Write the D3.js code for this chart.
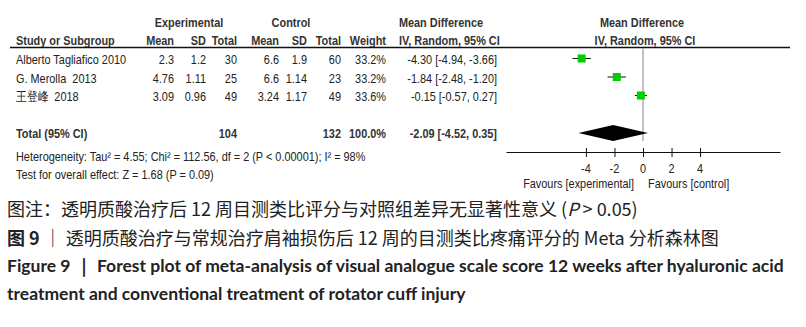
<!DOCTYPE html>
<html>
<head>
<meta charset="utf-8">
<script src="https://cdn.jsdelivr.net/npm/d3@7"></script>
<style>
  body { margin: 0; background: #fff; }
  svg { display: block; }
  .t { font-family: "Liberation Sans", Arial, sans-serif; font-size: 13.3px; fill: #222; white-space: pre; }
  .b { font-weight: bold; fill: #333; }
  .cn { font-family: "Noto Sans CJK SC", sans-serif; font-size: 18px; fill: #222; }
  .en { font-family: Lato, "Open Sans", sans-serif; font-size: 17.5px; font-weight: bold; fill: #222; }
</style>
</head>
<body>
<div id="container"></div>
<script>
(function(){

  // data
  var studies = ["Alberto Tagliafico 2010", "G. Merolla  2013", "王登峰  2018"]
  var expMean = ["2.3", "4.76", "3.09"]
  var expSD = ["1.2", "1.11", "0.96"]
  var expN = [30, 25, 49]
  var ctrlMean = ["6.6", "6.6", "3.24"]
  var ctrlSD = ["1.9", "1.14", "1.17"]
  var ctrlN = [60, 23, 49]
  var weight = [33.2, 33.2, 33.6]
  var md = [-4.30, -1.84, -0.15]
  var mdLo = [-4.94, -2.48, -0.57]
  var mdHi = [-3.66, -1.20, 0.27]
  var total = { expN: 104, ctrlN: 132, weight: 100.0, md: -2.09, lo: -4.52, hi: 0.35 }
  var tickValues = [-4, -2, 0, 2, 4]
  var hetText = "Heterogeneity: Tau² = 4.55; Chi² = 112.56, df = 2 (P < 0.00001); I² = 98%"
  var overallText = "Test for overall effect: Z = 1.68 (P = 0.09)"

  var width = 806, height = 327
  var narrow = 0.82   // no Arial Narrow here, squeeze Liberation Sans instead

  var svg = d3.select("#container")
    .append("svg")
      .attr("width", width)
      .attr("height", height)

  var x = d3.scaleLinear().domain([-9.6, 9.6]).range([506, 780])
  var rowY = [58.5, 77, 95.5]
  var totalY = 133
  var left = 16

  function txt(px, py, s, anchor, cls){
    return svg.append("text")
      .attr("class", "t " + (cls || ""))
      .attr("transform", "translate(" + px + "," + py + ") scale(" + narrow + ",1)")
      .attr("text-anchor", anchor || "start")
      .text(s)
  }
  function ci(m, l, h){
    return m.toFixed(2) + " [" + l.toFixed(2) + ", " + h.toFixed(2) + "]"
  }

  // headers
  txt(189, 27, "Experimental", "middle", "b")
  txt(291, 27, "Control", "middle", "b")
  txt(441, 27, "Mean Difference", "middle", "b")
  txt(642, 27, "Mean Difference", "middle", "b")
  txt(left, 45, "Study or Subgroup", "start", "b")
  txt(174, 45, "Mean", "end", "b")
  txt(206, 45, "SD", "end", "b")
  txt(237, 45, "Total", "end", "b")
  txt(279, 45, "Mean", "end", "b")
  txt(307, 45, "SD", "end", "b")
  txt(341, 45, "Total", "end", "b")
  txt(386, 45, "Weight", "end", "b")
  txt(399, 45, "IV, Random, 95% CI", "start", "b")
  txt(645, 45, "IV, Random, 95% CI", "middle", "b")

  svg.append("line")
    .attr("x1", 10).attr("x2", 790)
    .attr("y1", 47.5).attr("y2", 47.5)
    .attr("stroke", "#111").attr("stroke-width", 1.4)

  // study rows
  studies.forEach(function(s, i){
    var by = rowY[i] + 5.5
    txt(left, by, s)
    txt(174, by, expMean[i], "end")
    txt(206, by, expSD[i], "end")
    txt(237, by, expN[i], "end")
    txt(279, by, ctrlMean[i], "end")
    txt(307, by, ctrlSD[i], "end")
    txt(341, by, ctrlN[i], "end")
    txt(386, by, weight[i].toFixed(1) + "%", "end")
    txt(497, by, ci(md[i], mdLo[i], mdHi[i]), "end")
  })

  // total row
  var tb = totalY + 5
  txt(left, tb, "Total (95% CI)", "start", "b")
  txt(237, tb, total.expN, "end", "b")
  txt(341, tb, total.ctrlN, "end", "b")
  txt(386, tb, total.weight.toFixed(1) + "%", "end", "b")
  txt(497, tb, ci(total.md, total.lo, total.hi), "end", "b")
  txt(left, 161, hetText)
  txt(left, 179, overallText)

  // zero line
  svg.append("line")
    .attr("x1", x(0)).attr("x2", x(0))
    .attr("y1", 48).attr("y2", totalY + 8)
    .attr("stroke", "#999").attr("stroke-width", 1.2)

  // whiskers + squares
  var plot = svg.append("g")
  plot.selectAll(".ci")
    .data(md)
    .enter().append("line")
      .attr("x1", function(d, i){ return x(mdLo[i]) })
      .attr("x2", function(d, i){ return x(mdHi[i]) })
      .attr("y1", function(d, i){ return rowY[i] })
      .attr("y2", function(d, i){ return rowY[i] })
      .attr("stroke", "#111").attr("stroke-width", 1)
  var sq = 8
  plot.selectAll(".sq")
    .data(md)
    .enter().append("rect")
      .attr("x", function(d){ return x(d) - sq / 2 })
      .attr("y", function(d, i){ return rowY[i] - sq / 2 })
      .attr("width", sq).attr("height", sq)
      .attr("fill", "#00cc00")

  // diamond
  svg.append("path")
    .attr("d", "M" + x(total.lo) + "," + totalY +
               "L" + x(total.md) + "," + (totalY - 8) +
               "L" + x(total.hi) + "," + totalY +
               "L" + x(total.md) + "," + (totalY + 8) + "Z")
    .attr("fill", "#000")

  // axis (labels drawn separately so they can be squeezed too)
  var axis = svg.append("g")
    .attr("transform", "translate(0,152)")
    .call(d3.axisBottom(x).tickValues(tickValues).tickSize(5).tickSizeOuter(0).tickFormat(""))
  axis.select(".domain").attr("stroke", "#111").attr("stroke-width", 1.2)
  axis.selectAll(".tick line").attr("y1", -4).attr("stroke", "#111")
  tickValues.forEach(function(v){ txt(x(v), 173, String(v), "middle") })

  txt(x(0) - 9, 188, "Favours [experimental]", "end")
  txt(x(0) + 5, 188, "Favours [control]", "start")

  // caption
  var c1 = svg.append("text").attr("class", "cn").attr("x", 7).attr("y", 216)
  c1.append("tspan").text("图注：透明质酸治疗后 12 周目测类比评分与对照组差异无显著性意义 (")
  c1.append("tspan").attr("font-style", "italic").text("P")
  c1.append("tspan").text(" > 0.05)")

  var c2 = svg.append("text").attr("class", "cn").attr("x", 7).attr("y", 245)
  c2.append("tspan").attr("font-weight", "bold").text("图 9")
  c2.append("tspan").text(" ｜ 透明质酸治疗与常规治疗肩袖损伤后 12 周的目测类比疼痛评分的 Meta 分析森林图")

  svg.append("text").attr("class", "en").attr("x", 7).attr("y", 272)
    .text("Figure 9 ｜ Forest plot of meta-analysis of visual analogue scale score 12 weeks after hyaluronic acid")
  svg.append("text").attr("class", "en").attr("x", 7).attr("y", 300)
    .text("treatment and conventional treatment of rotator cuff injury")

})()
</script>
</body>
</html>
